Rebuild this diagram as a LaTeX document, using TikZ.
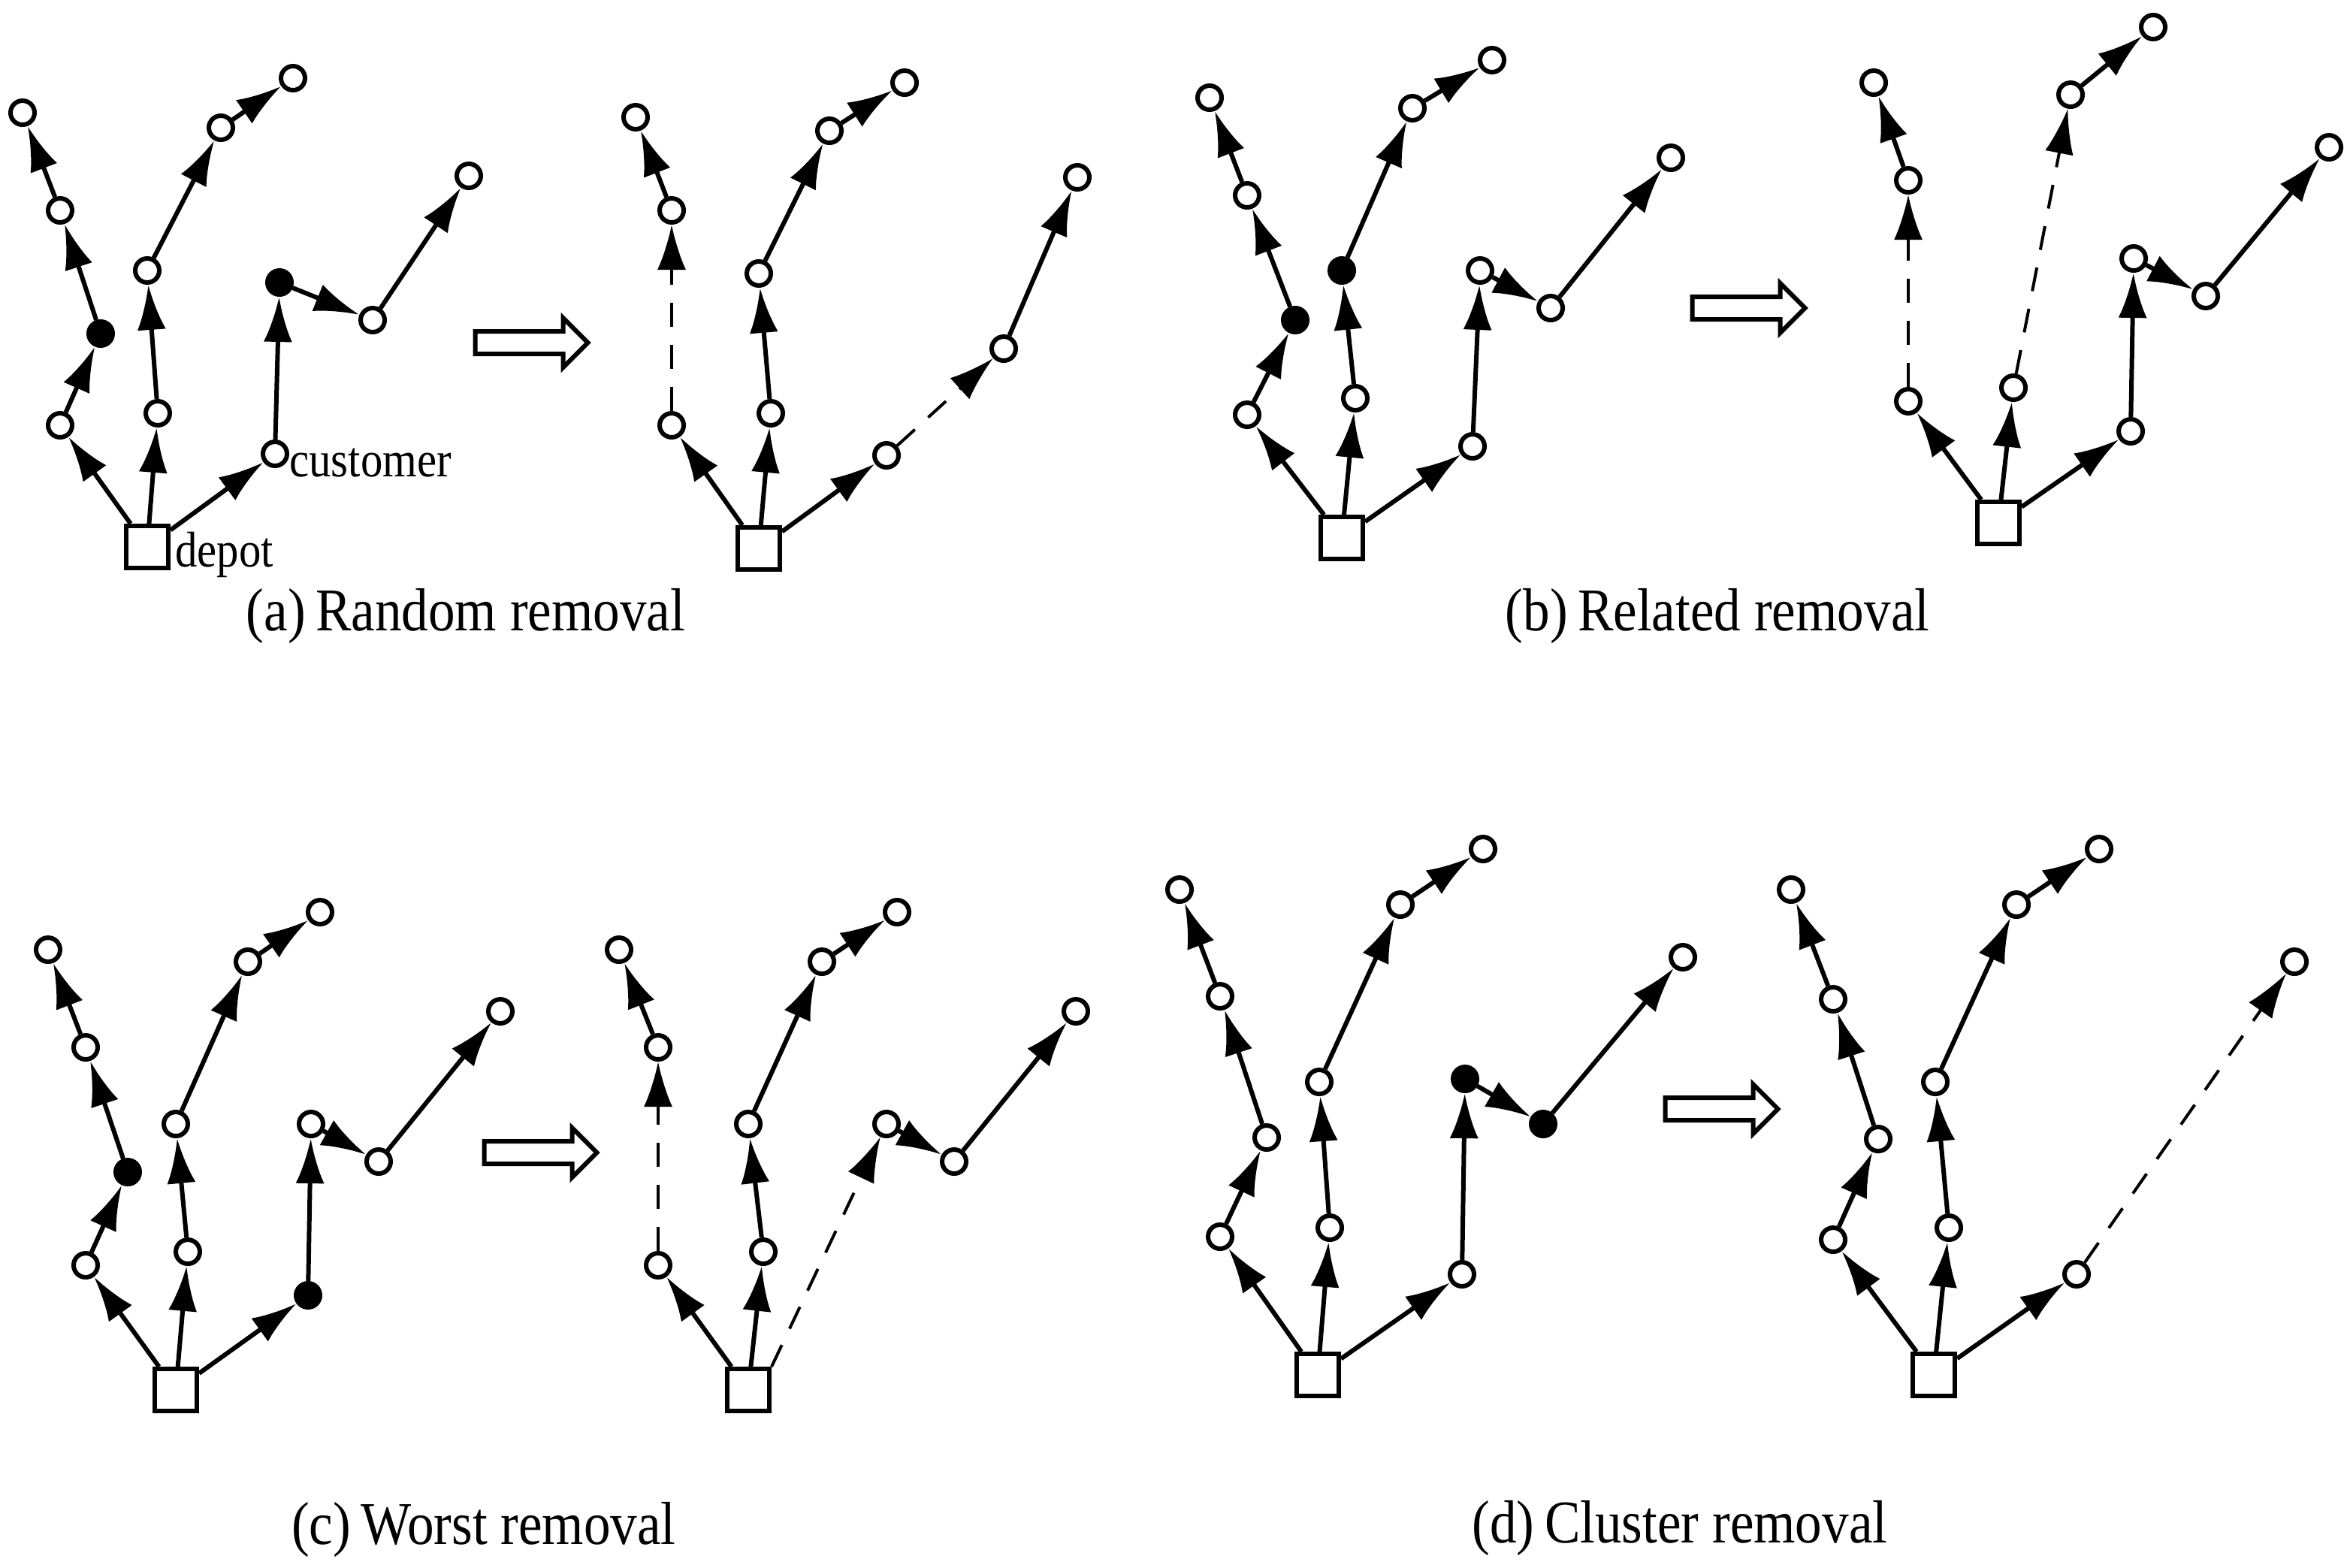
\documentclass[tikz,border=0pt]{standalone}
\usepackage{fontspec}
\setmainfont{Liberation Serif}[FakeStretch=0.88]
\usetikzlibrary{arrows.meta,shapes.arrows}

\begin{document}
\begin{tikzpicture}[x=0.1mm,y=-0.1mm,
  cust/.style={circle,draw,line width=0.3mm,fill=white,minimum size=1.6mm,inner sep=0pt},
  rem/.style={cust,fill=black},
  depot/.style={rectangle,draw,line width=0.3mm,fill=white,minimum size=2.8mm,inner sep=0pt},
  edge/.style={line width=0.3mm,-{Latex[length=3mm,width=1.9mm]}},
  gone/.style={edge,dash pattern=on 1.6mm off 1.2mm,line width=0.2mm},
  fat/.style={single arrow,draw,line width=0.3mm,minimum height=7.5mm,inner sep=0.6mm,single arrow head extend=0.9mm},
  lbl/.style={font=\fontsize{9.5pt}{11pt}\selectfont,inner sep=0pt,anchor=west},
  subcap/.style={font=\fontsize{11.5pt}{13pt}\selectfont}]
\useasboundingbox (0,0) rectangle (1564,1043);

% (a) random removal, before
\node[depot] (aLd) at (98,364) {};
\foreach \n/\x/\y in {aL1/40/283,aL3/40/140,aL4/15/75,aM1/105/275,aM2/98/180,aM3/147/85,aM4/195/52,aR1/183/302,aR3/248/213,aR4/312/117}
  \node[cust] (\n) at (\x,\y) {};
\node[rem] (aL2) at (67,222) {};
\node[rem] (aR2) at (186,188) {};
\foreach \s/\t in {aLd/aL1,aL1/aL2,aL2/aL3,aL3/aL4,aLd/aM1,aM1/aM2,aM2/aM3,aM3/aM4,aLd/aR1,aR1/aR2,aR2/aR3,aR3/aR4}
  \draw[edge] (\s) -- (\t);
\node[lbl] (custlbl) at (192,308) {customer};
\node[lbl] (depotlbl) at (116,369) {depot};
\node[fat] (aArr) at (350,228) {};
% (a) after
\node[depot] (bLd) at (505,365) {};
\foreach \n/\x/\y in {bL1/447/283,bL3/447/140,bL4/423/78,bM1/513/275,bM2/505/182,bM3/552/87,bM4/602/55,bR1/590/303,bR3/668/232,bR4/717/118}
  \node[cust] (\n) at (\x,\y) {};
\foreach \s/\t in {bLd/bL1,bL3/bL4,bLd/bM1,bM1/bM2,bM2/bM3,bM3/bM4,bLd/bR1,bR3/bR4}
  \draw[edge] (\s) -- (\t);
\draw[gone] (bL1) -- (bL3);
\draw[gone] (bR1) -- (bR3);
\node[subcap] (capA) at (310,410) {(a)\,Random removal};

% (b) related removal, before
\node[depot] (cLd) at (893,358) {};
\foreach \n/\x/\y in {cL1/830/276,cL3/830/130,cL4/805/65,cM1/902/265,cM3/940/72,cM4/993/40,cR1/980/297,cR2/985/180,cR3/1032/205,cR4/1112/105}
  \node[cust] (\n) at (\x,\y) {};
\node[rem] (cL2) at (862,213) {};
\node[rem] (cM2) at (893,180) {};
\foreach \s/\t in {cLd/cL1,cL1/cL2,cL2/cL3,cL3/cL4,cLd/cM1,cM1/cM2,cM2/cM3,cM3/cM4,cLd/cR1,cR1/cR2,cR2/cR3,cR3/cR4}
  \draw[edge] (\s) -- (\t);
\node[fat] (cArr) at (1160,205) {};
% (b) after
\node[depot] (dLd) at (1330,348) {};
\foreach \n/\x/\y in {dL1/1270/267,dL3/1270/120,dL4/1247/55,dM1/1340/258,dM3/1378/63,dM4/1433/18,dR1/1418/287,dR2/1420/172,dR3/1468/197,dR4/1550/98}
  \node[cust] (\n) at (\x,\y) {};
\foreach \s/\t in {dLd/dL1,dL3/dL4,dLd/dM1,dM3/dM4,dLd/dR1,dR1/dR2,dR2/dR3,dR3/dR4}
  \draw[edge] (\s) -- (\t);
\draw[gone] (dL1) -- (dL3);
\draw[gone] (dM1) -- (dM3);
\node[subcap] (capB) at (1143,410) {(b)\,Related removal};

% (c) worst removal, before
\node[depot] (eLd) at (117,925) {};
\foreach \n/\x/\y in {eL1/57/842,eL3/57/697,eL4/32/632,eM1/125/833,eM2/117/748,eM3/165/640,eM4/213/607,eR2/207/748,eR3/252/773,eR4/333/673}
  \node[cust] (\n) at (\x,\y) {};
\node[rem] (eL2) at (85,780) {};
\node[rem] (eR1) at (205,862) {};
\foreach \s/\t in {eLd/eL1,eL1/eL2,eL2/eL3,eL3/eL4,eLd/eM1,eM1/eM2,eM2/eM3,eM3/eM4,eLd/eR1,eR1/eR2,eR2/eR3,eR3/eR4}
  \draw[edge] (\s) -- (\t);
\node[fat] (eArr) at (356,767) {};
% (c) after
\node[depot] (fLd) at (498,925) {};
\foreach \n/\x/\y in {fL1/438/842,fL3/438/697,fL4/412/632,fM1/508/833,fM2/498/748,fM3/547/640,fM4/597/607,fR2/590/748,fR3/635/773,fR4/716/673}
  \node[cust] (\n) at (\x,\y) {};
\foreach \s/\t in {fLd/fL1,fL3/fL4,fLd/fM1,fM1/fM2,fM2/fM3,fM3/fM4,fR2/fR3,fR3/fR4}
  \draw[edge] (\s) -- (\t);
\draw[gone] (fL1) -- (fL3);
\draw[gone] (fLd.north east) -- (fR2);
\node[subcap] (capC) at (322,1018) {(c)\,Worst removal};

% (d) cluster removal, before
\node[depot] (gLd) at (877,915) {};
\foreach \n/\x/\y in {gL1/812/823,gL2/843/757,gL3/812/663,gL4/785/592,gM1/885/817,gM2/878/720,gM3/932/602,gM4/987/565,gR1/973/848,gR4/1120/637}
  \node[cust] (\n) at (\x,\y) {};
\node[rem] (gR2) at (975,718) {};
\node[rem] (gR3) at (1027,748) {};
\foreach \s/\t in {gLd/gL1,gL1/gL2,gL2/gL3,gL3/gL4,gLd/gM1,gM1/gM2,gM2/gM3,gM3/gM4,gLd/gR1,gR1/gR2,gR2/gR3,gR3/gR4}
  \draw[edge] (\s) -- (\t);
\node[fat] (gArr) at (1142,738) {};
% (d) after
\node[depot] (hLd) at (1287,915) {};
\foreach \n/\x/\y in {hL1/1220/825,hL2/1250/758,hL3/1220/665,hL4/1192/592,hM1/1297/817,hM2/1288/720,hM3/1342/602,hM4/1397/565,hR1/1382/848,hR4/1527/640}
  \node[cust] (\n) at (\x,\y) {};
\foreach \s/\t in {hLd/hL1,hL1/hL2,hL2/hL3,hL3/hL4,hLd/hM1,hM1/hM2,hM2/hM3,hM3/hM4,hLd/hR1}
  \draw[edge] (\s) -- (\t);
\draw[gone] (hR1) -- (hR4);
\node[subcap] (capD) at (1118,1017) {(d)\,Cluster removal};
\end{tikzpicture}
\end{document}
